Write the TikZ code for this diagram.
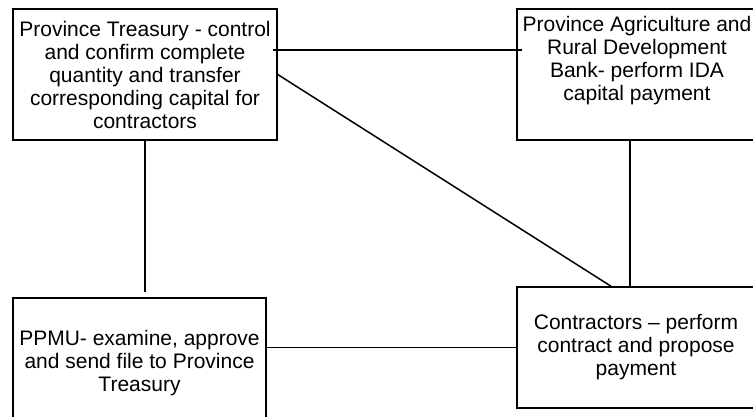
\documentclass[tikz,border=0pt]{standalone}
\usepackage{fontspec}
\setmainfont{Liberation Sans}
\usetikzlibrary{positioning}

\begin{document}
\begin{tikzpicture}[
    x=1pt, y=-1pt,
    box/.style={draw, line width=1.5pt, rectangle, align=center, inner sep=2pt,
                font=\fontsize{21}{23}\selectfont},
    link/.style={line width=1.5pt}
]
    \useasboundingbox (0,0) rectangle (753,417);

    % Boxes
    \node[box, minimum width=264pt, minimum height=131pt] (treasury) at (145,74.5)
        {Province Treasury - control\\ and confirm complete\\ quantity and transfer\\ corresponding capital for\\ contractors};
    \node[box, minimum width=240pt, minimum height=131pt, text depth=32pt] (bank) at (637,74.5)
        {Province Agriculture and\\ Rural Development\\ Bank- perform IDA\\ capital payment};
    \node[box, minimum width=253pt, minimum height=130pt] (ppmu) at (139.5,363)
        {PPMU- examine, approve\\ and send file to Province\\ Treasury};
    \node[box, minimum width=238pt, minimum height=121pt] (contractors) at (636,347.5)
        {Contractors -- perform\\ contract and propose\\ payment};

    % Links
    \coordinate (bankfoot) at ([xshift=-7pt]bank.south);
    \draw[link] ([xshift=-5pt, yshift=24.5pt]treasury.east) -- ([xshift=6pt, yshift=24.5pt]bank.west);
    \draw[link] (treasury.east) -- ([xshift=-25pt]contractors.north);
    \draw[link] (bankfoot) -- (bankfoot |- contractors.north);
    \draw[link, shorten >=5pt] (treasury.south) -- (treasury.south |- ppmu.north);
    \draw[link] (contractors.west) -- (contractors.west -| ppmu.east);

\end{tikzpicture}
\end{document}
